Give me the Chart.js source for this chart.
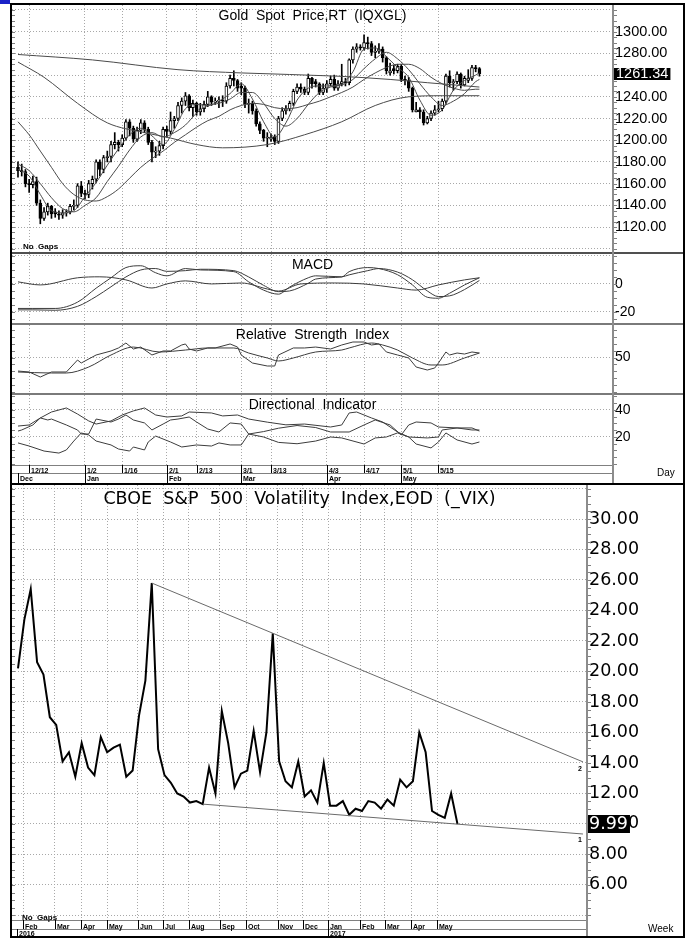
<!DOCTYPE html>
<html>
<head>
<meta charset="utf-8">
<title>Gold Spot / VIX</title>
<script src="https://cdn.jsdelivr.net/npm/chart.js@4.4.1/dist/chart.umd.min.js"></script>
<style>
  body { margin: 0; width: 690px; height: 940px; background: #fff; position: relative; overflow: hidden;
         font-family: "Liberation Sans", Arial, sans-serif; }
  canvas { position: absolute; }
  .frame { position: absolute; border: 2px solid #000; box-sizing: border-box; }
  .sep { position: absolute; background: #7a7a7a; }
  .t { position: absolute; white-space: pre; color: #000; line-height: 1; }
  .ttl { font-size: 14px; text-align: center; left: 12px; width: 601px; }
  .small { font-size: 8px; font-weight: bold; }
</style>
</head>
<body>
<div style="position:absolute;left:0;top:0;width:10px;height:4px;background:#1a22c8"></div>

<div class="frame" style="left:10px;top:3px;width:675px;height:482px"></div>
<div class="frame" style="left:10px;top:483px;width:675px;height:455px"></div>

<canvas id="price" width="671" height="247" style="left:12px;top:5px"></canvas>
<canvas id="macd" width="671" height="69" style="left:12px;top:254px"></canvas>
<canvas id="rsi" width="671" height="68" style="left:12px;top:325px"></canvas>
<canvas id="di" width="671" height="88" style="left:12px;top:395px"></canvas>
<canvas id="vix" width="671" height="451" style="left:12px;top:485px"></canvas>

<!-- panel separators and axis lines -->
<div class="sep" style="left:12px;top:252px;width:671px;height:2px;background:#505050"></div>
<div class="sep" style="left:12px;top:323px;width:671px;height:2px"></div>
<div class="sep" style="left:12px;top:393px;width:671px;height:2px"></div>
<div class="sep" style="left:612px;top:5px;width:2px;height:478px;background:#8c8c8c"></div>
<div class="sep" style="left:586px;top:485px;width:2px;height:451px;background:#8c8c8c"></div>

<div class="t ttl" style="top:7.5px">Gold  Spot  Price,RT  (IQXGL)</div>
<div class="t ttl" style="top:256.5px">MACD</div>
<div class="t ttl" style="top:326.5px">Relative  Strength  Index</div>
<div class="t ttl" style="top:397px">Directional  Indicator</div>
<div class="t" style="left:12px;width:575px;top:490px;text-align:center;font-family:'DejaVu Sans',Verdana,sans-serif;font-size:17.5px">CBOE  S&amp;P  500  Volatility  Index,EOD  (_VIX)</div>
<div class="t small" style="left:23px;top:243px">No  Gaps</div>
<div class="t small" style="left:22px;top:914px">No  Gaps</div>
<div class="t" style="left:657px;top:468px;font-size:10px">Day</div>
<div class="t" style="left:648px;top:924px;font-size:10px">Week</div>

<script>
// ---- Gold spot, daily (x = trading day index, 0 = Dec 7 2016) ----
const OPEN = [
  1175,1172,1171,1160,1159,1162,1142,1128,1134,1139,
  1134,1132,1131,1133,1134,1139,1140,1158,1151,1150,
  1160,1164,1180,1173,1184,1185,1196,1198,1196,1202,
  1217,1211,1201,1209,1216,1210,1198,1189,1190,1195,
  1210,1208,1218,1220,1232,1236,1241,1230,1234,1226,
  1229,1233,1240,1235,1236,1237,1236,1250,1257,1255,
  1250,1248,1233,1234,1227,1215,1209,1202,1201,1203,
  1199,1220,1227,1229,1234,1245,1249,1247,1244,1257,
  1254,1252,1244,1248,1252,1256,1248,1252,1254,1253,
  1274,1284,1286,1285,1290,1289,1281,1282,1284,1276,
  1262,1266,1264,1268,1256,1255,1248,1226,1228,1226,
  1216,1220,1225,1228,1229,1236,1259,1253,1254,1261,
  1251,1255,1257,1267,1266];
const HIGH = [
  1180,1178,1173,1164,1167,1166,1145,1138,1142,1140,
  1137,1135,1136,1136,1141,1145,1160,1162,1154,1163,
  1167,1182,1182,1186,1190,1199,1207,1200,1205,1219,
  1219,1213,1212,1219,1218,1212,1200,1194,1199,1212,
  1213,1226,1222,1235,1239,1244,1242,1237,1235,1234,
  1236,1245,1241,1239,1240,1241,1253,1260,1264,1256,
  1253,1250,1238,1236,1229,1217,1210,1207,1206,1205,
  1222,1230,1232,1236,1247,1252,1252,1249,1261,1258,
  1256,1253,1252,1255,1259,1260,1255,1270,1257,1275,
  1286,1289,1288,1297,1295,1291,1287,1289,1286,1277,
  1271,1269,1270,1270,1259,1258,1249,1235,1230,1228,
  1222,1227,1232,1236,1238,1261,1264,1256,1263,1262,
  1259,1265,1269,1269,1267];
const LOW = [
  1166,1167,1157,1152,1156,1140,1123,1126,1131,1128,
  1129,1127,1128,1130,1132,1136,1138,1148,1146,1147,
  1155,1161,1167,1170,1180,1180,1192,1190,1194,1200,
  1204,1198,1199,1206,1207,1196,1180,1184,1186,1192,
  1203,1206,1211,1218,1225,1232,1227,1222,1223,1223,
  1226,1231,1232,1233,1230,1231,1234,1248,1250,1245,
  1242,1230,1225,1224,1213,1206,1199,1194,1199,1196,
  1197,1218,1224,1227,1232,1243,1244,1242,1242,1248,
  1249,1242,1242,1244,1250,1246,1246,1250,1250,1251,
  1271,1281,1283,1283,1284,1278,1276,1280,1272,1261,
  1260,1261,1262,1254,1251,1245,1226,1226,1220,1214,
  1215,1218,1223,1226,1227,1234,1249,1246,1252,1248,
  1250,1253,1255,1263,1259];
const CLOSE = [
  1172,1171,1160,1159,1162,1142,1128,1134,1139,1132,
  1132,1131,1133,1134,1139,1140,1158,1151,1150,1160,
  1164,1180,1173,1184,1185,1196,1198,1196,1202,1217,
  1211,1201,1209,1216,1210,1198,1189,1190,1195,1210,
  1208,1218,1220,1232,1236,1241,1230,1234,1226,1229,
  1233,1240,1235,1236,1237,1236,1250,1257,1255,1248,
  1248,1233,1234,1227,1215,1209,1202,1203,1203,1199,
  1220,1227,1229,1234,1245,1249,1247,1244,1257,1252,
  1252,1244,1248,1252,1256,1248,1252,1254,1253,1274,
  1284,1286,1285,1290,1289,1281,1282,1284,1276,1264,
  1264,1264,1268,1256,1255,1248,1228,1228,1226,1216,
  1220,1225,1228,1229,1236,1259,1253,1254,1261,1251,
  1257,1257,1267,1266,1261.34];

// moving averages
const SHORT_IDX = [0,3,6,9,12,15,18,21,24,27,30,33,36,39,42,45,48,51,54,57,60,63,66,69,72,75,78,81,84,87,90,93,96,99,102,105,108,111,114,117,120,123,124];
const MA_FAST = [1173,1167,1150,1135,1133,1135,1148,1161,1177,1192,1205,1211,1204,1196,1210,1229,1233,1232,1236,1243,1252,1238,1217,1203,1216,1237,1248,1250,1250,1252,1263,1284,1285,1277,1267,1258,1237,1223,1228,1246,1255,1260,1262];
const MA_MID = [1178,1172,1160,1147,1137,1134,1140,1147,1162,1176,1191,1203,1207,1203,1207,1214,1225,1232,1234,1238,1244,1244,1234,1220,1213,1220,1233,1244,1249,1251,1256,1266,1275,1281,1275,1265,1252,1240,1232,1236,1243,1254,1256];
const MA_SLOW = [1217,1205,1190,1175,1160,1150,1145,1144,1148,1155,1165,1175,1183,1190,1198,1205,1212,1218,1222,1228,1232,1234,1233,1230,1229,1230,1233,1236,1240,1244,1249,1256,1262,1267,1270,1270,1266,1258,1252,1248,1246,1247,1247];
const MA_LONG_IDX = [0,20,43,60,86,100,110,124];
const MA_LONG = [1279,1274,1265,1262,1259,1256,1253,1249];
const MA_U_IDX = [0,7,16,24,34,41,48,55,67,77,87,96,105,114,124];
const MA_U = [1272,1258,1234,1216,1207,1202,1196,1193,1196,1205,1217,1232,1240,1241,1241];

// MACD
const MACD_IDX = [0,4,10,16,21,25,29,33,37,40,45,49,58,62,66,70,73,78,80,87,89,94,97,102,106,110,113,116,120,124];
const MACD_LINE = [-17.5,-17.5,-17.5,-13,-3,4.4,11.7,13,8,5.8,11,10,8.8,1.5,-4.4,-7.3,-2.2,4.4,5.8,5.1,8.8,11.7,11,6.6,-0.7,-9.5,-10.2,-6.6,-0.7,4.4];
const MACD_SIGNAL = [-18.5,-18.5,-18.8,-16,-9,-2,5,10,11,9,9.5,10.5,9.5,5,-1,-5.5,-5,0.5,3.5,5,6.5,9.5,11,8.5,3,-5,-9,-8.5,-4,2.5];
const MACD3_IDX = [0,6,16,22,29,36,40,45,52,60,67,70,76,85,93,102,107,113,120,124];
const MACD_THIRD = [1.5,-0.7,4.4,5.1,2.9,-2.9,0,2.2,0,0.7,-3.6,-5.1,0,0.7,0,-2.9,-4.4,-0.7,2.9,4.4];

// RSI
const RSI_IDX = [0,3,6,9,13,16,17,21,25,27,29,31,33,36,39,41,44,45,46,48,51,53,57,59,60,63,67,69,70,74,77,80,84,87,90,93,95,97,99,102,105,107,110,112,113,115,116,118,120,122,124];
const RSI = [30.1,28.7,21.3,28.7,28.7,46.3,41.9,53.7,59.6,64,71.3,62.5,65.4,53.7,59.6,59.6,68.4,69.9,62.5,59.6,64,64,69.9,65.4,53.7,41.9,37.5,37.5,53.7,64,64,65.4,62.5,68.4,72.8,72.8,68.4,69.9,58.1,53.7,49.3,36,31.6,34.6,41.9,58.1,53.7,56.6,55.1,58.1,56.6];
const RSI_AVG_IDX = [0,9,13,19,25,31,38,45,51,58,62,67,70,74,80,87,89,95,98,102,106,111,114,120,124];
const RSI_AVG = [28.7,27.2,27.2,36,53.7,65.4,58.1,61,64,64,56.6,49.3,44.9,49.3,58.1,61,64,71.3,68.4,61,49.3,39,39,49.3,56.6];

// Directional indicator
const DI1_IDX = [0,3,6,9,13,16,19,21,25,28,31,34,37,40,44,46,52,55,59,62,67,72,77,84,87,89,91,93,95,98,102,105,110,113,114,118,122,124];
const DI1 = [28.1,28.9,34.1,38.5,41.5,37,31.9,29.6,31.9,36.3,39.3,41.5,36.3,34.8,35.6,38.5,37.8,35.6,36.3,33.3,31,29,29.6,27.4,28.9,37.8,38.5,36.3,34.1,31.1,23.7,20,19.3,20,25.2,26.7,25.2,25.2];
const DI2_IDX = [0,1,4,6,8,9,13,16,17,19,21,25,27,29,31,34,36,39,41,43,46,48,51,54,57,60,62,66,70,75,80,84,89,93,96,100,103,105,107,111,113,118,122,124];
const DI2 = [24.4,25.2,28.9,34.1,32.6,33.3,28.9,25.2,22.2,22.2,33.3,31.1,33.3,36.3,32.6,30.4,25.2,29.6,32.6,33.3,34.8,31.1,25.9,23.7,30.4,29.6,22.2,24,26.5,28.5,27,23.7,23.7,28.9,32.6,28.9,21.5,28.9,31.1,30.4,27.4,26.7,26.7,24.4];
const DI3_IDX = [0,3,7,11,13,15,17,19,21,25,27,30,31,34,35,37,41,44,48,52,54,57,60,62,66,70,75,80,84,87,93,96,99,102,105,107,111,113,115,118,122,124];
const DI3 = [15.6,13.3,9.6,8.1,10.4,17,23,21.5,17,14.1,11.1,9.6,12.6,10.4,16.3,20.7,16.3,12.6,14.1,13.3,15.6,14.1,14.1,22.2,20,16,15,17,20,19.3,14.8,19.3,20,23,20,14.8,11.9,16.3,23,17.8,14.8,16.3];

// date axis of the gold chart
const DAY_TICK_IDX = [3,18,28,40,48,60,68,83,93,103,113];
const DAY_TICK_LABELS = ['12/12','1/2','1/16','2/1','2/13','3/1','3/13','4/3','4/17','5/1','5/15'];
const GOLD_MONTH_IDX = [0,18,40,60,83,103];
const GOLD_MONTH_LABELS = ['Dec','Jan','Feb','Mar','Apr','May'];

const PRICE_TICKS = [1100,1120,1140,1160,1180,1200,1220,1240,1260,1280,1300,1320];
const PRICE_LABELS = [1120,1140,1160,1180,1200,1220,1240,1260,1280,1300];

// ---- VIX, weekly (x = week index, 0 = last week of Jan 2016) ----
const VIX = [
  20.2,23.4,25.4,20.6,19.8,17.0,16.5,14.1,14.7,13.1,
  15.3,13.7,13.2,15.7,14.7,15.0,15.2,13.1,13.5,17.1,
  19.4,25.8,14.9,13.2,12.7,12.0,11.8,11.4,11.5,11.3,
  13.7,12.0,17.4,15.3,12.4,13.3,13.5,16.1,13.4,16.0,
  22.5,14.1,12.8,12.4,14.1,11.8,12.2,11.4,14.0,11.2,
  11.2,11.5,10.6,11.0,10.85,11.5,11.4,11.0,11.6,11.2,
  12.9,12.4,12.8,16.0,14.7,10.85,10.6,10.4,12.0,9.99];
const TREND_UPPER = [[21, 25.8], [88.7, 14.07]];
const TREND_LOWER = [[29, 11.3], [88.7, 9.34]];
const VIX_MONTH_POS = [0.8,5.8,9.9,14,18.8,22.8,26.8,31.7,35.8,40.8,44.7,48.7,53.7,57.6,61.7,65.8];
const VIX_MONTH_LABELS = ['Feb','Mar','Apr','May','Jun','Jul','Aug','Sep','Oct','Nov','Dec','Jan','Feb','Mar','Apr','May'];
const VIX_YEAR_POS = [-0.1, 48.7];
const VIX_YEAR_LABELS = ['2016','2017'];
const VIX_TICKS = [4,6,8,10,12,14,16,18,20,22,24,26,28,30,32];
const VIX_LABELS = [6,8,10,12,14,16,18,20,22,24,26,28,30];

const GRID = '#a8a8a8';
const LINE = '#3c3c3c';
const ARIAL = '"Liberation Sans", Arial, sans-serif';
const VERDANA = '"DejaVu Sans", Verdana, sans-serif';

function xy(idx, vals) {
  return vals.map((v, k) => ({ x: idx[k], y: v }));
}

function lineSet(data, color, width, tension) {
  return { type: 'line', data: data, borderColor: color, borderWidth: width, pointRadius: 0,
           tension: tension || 0, cubicInterpolationMode: tension ? 'monotone' : 'default', fill: false, order: 1 };
}

// small marks on the left edge and on the right axis line
const edgeTicks = {
  id: 'edgeTicks',
  afterDraw(chart, args, opts) {
    if (!opts.step) return;
    const { ctx, chartArea: a, scales: { y } } = chart;
    ctx.save();
    ctx.fillStyle = '#808080';
    for (let v = Math.ceil(y.min / opts.step) * opts.step; v <= y.max; v += opts.step) {
      const py = Math.round(y.getPixelForValue(v));
      ctx.fillRect(a.left, py, 3, 1);
      ctx.fillRect(a.right + 1, py, 3, 1);
    }
    ctx.restore();
  }
};

// black box with the last value on the price axis
const lastBox = {
  id: 'lastBox',
  afterDraw(chart, args, opts) {
    if (!opts.text) return;
    const { ctx, chartArea: a, scales: { y } } = chart;
    const py = y.getPixelForValue(opts.value);
    ctx.save();
    ctx.font = opts.font;
    const w = ctx.measureText(opts.text).width;
    ctx.fillStyle = '#000';
    ctx.fillRect(a.right + 1, Math.round(py - opts.h / 2), w + opts.pad + 2, opts.h);
    ctx.fillStyle = '#fff';
    ctx.textBaseline = 'middle';
    ctx.fillText(opts.text, a.right + 1 + opts.pad, py + 0.5);
    ctx.restore();
  }
};

// two-row date axis below the last panel
const dateAxis = {
  id: 'dateAxis',
  afterDraw(chart, args, opts) {
    if (!opts.top) return;
    const { ctx, chartArea: a, scales: { x } } = chart;
    const top = a.bottom, mid = top + opts.row, bot = chart.height;
    ctx.save();
    ctx.fillStyle = '#808080';
    ctx.fillRect(0, top, a.right, 1);
    ctx.fillRect(0, mid, a.right, 1);
    ctx.fillStyle = '#000';
    ctx.font = 'bold 7px ' + ARIAL;
    opts.top.pos.forEach((v, k) => {
      const px = Math.round(x.getPixelForValue(v));
      ctx.fillRect(px, top, 1, opts.row);
      ctx.fillText(opts.top.labels[k], px + 2, top + opts.base1);
    });
    opts.bottom.pos.forEach((v, k) => {
      const px = Math.max(1, Math.round(x.getPixelForValue(v)));
      ctx.fillRect(px, mid, 1, bot - mid);
      ctx.fillText(opts.bottom.labels[k], px + 2, top + opts.base2);
    });
    ctx.restore();
  }
};

// small number tags at the right end of the trend lines
const trendTags = {
  id: 'trendTags',
  afterDraw(chart, args, opts) {
    if (!opts.lines) return;
    const { ctx, scales: { x, y } } = chart;
    ctx.save();
    ctx.fillStyle = '#000';
    ctx.font = 'bold 7px ' + ARIAL;
    opts.lines.forEach((ln, k) => {
      const end = ln[ln.length - 1];
      ctx.fillText(opts.tags[k], x.getPixelForValue(end[0]) - 5, y.getPixelForValue(end[1]) + opts.dy[k]);
    });
    ctx.restore();
  }
};

Chart.register(edgeTicks, lastBox, dateAxis, trendTags);

function scales(cfg) {
  return {
    x: {
      type: 'linear', min: cfg.xMin, max: cfg.xMax, offset: false,
      grid: { color: GRID, offset: false, drawTicks: false, lineWidth: 1 },
      border: { display: false, dash: [1, 2] },
      ticks: { display: false },
      afterBuildTicks: s => { s.ticks = cfg.xGrid.map(v => ({ value: v })); },
      afterFit: s => { s.height = cfg.xHeight; s.paddingLeft = 0; s.paddingRight = 0; }
    },
    y: {
      position: 'right', min: cfg.yMin, max: cfg.yMax, beginAtZero: false,
      grid: { color: GRID, drawTicks: false, lineWidth: 1 },
      border: { display: false, dash: [1, 2] },
      ticks: {
        autoSkip: false, padding: 2, color: '#000', font: cfg.font,
        callback: v => cfg.labels.includes(v) ? cfg.fmt(v) : ''
      },
      afterBuildTicks: s => { s.ticks = cfg.yGrid.map(v => ({ value: v })); },
      afterFit: s => { s.width = cfg.yWidth; s.paddingTop = 0; s.paddingBottom = 0; }
    }
  };
}

function makeChart(id, datasets, cfg, plugins) {
  return new Chart(document.getElementById(id).getContext('2d'), {
    type: 'line',
    data: { datasets: datasets },
    options: {
      responsive: false, animation: false, devicePixelRatio: 1,
      layout: { padding: 0 },
      plugins: Object.assign({ legend: { display: false }, tooltip: { enabled: false } }, plugins),
      scales: scales(cfg)
    }
  });
}

const goldBase = { xMin: -1.61, xMax: 159.9, xGrid: DAY_TICK_IDX, xHeight: 0, yWidth: 70 };
const font14 = { family: ARIAL, size: 14 };

// price panel: candles + moving averages
const candleColors = CLOSE.map((c, i) => c >= OPEN[i] ? '#fff' : '#000');
makeChart('price', [
  lineSet(xy(MA_LONG_IDX, MA_LONG), '#4a4a4a', 1, 0.4),
  lineSet(xy(MA_U_IDX, MA_U), '#4a4a4a', 1, 0.4),
  lineSet(xy(SHORT_IDX, MA_SLOW), '#4a4a4a', 1, 0.4),
  lineSet(xy(SHORT_IDX, MA_MID), '#4a4a4a', 1, 0.4),
  lineSet(xy(SHORT_IDX, MA_FAST), '#4a4a4a', 1, 0.4),
  { type: 'bar', data: HIGH.map((h, i) => ({ x: i, y: [LOW[i], h] })), backgroundColor: '#000',
    borderWidth: 0, barThickness: 1, grouped: false, order: 3 },
  { type: 'bar', data: OPEN.map((o, i) => ({ x: i, y: [o, CLOSE[i]] })), backgroundColor: candleColors,
    borderColor: '#000', borderWidth: 1, borderSkipped: false, barThickness: 3, minBarLength: 1,
    grouped: false, order: 2 }
], Object.assign({}, goldBase, {
  yMin: 1097, yMax: 1324.6, yGrid: PRICE_TICKS, labels: PRICE_LABELS,
  fmt: v => v.toFixed(2), font: { family: ARIAL, size: 14.5 }
}), {
  edgeTicks: { step: 5 },
  lastBox: { text: CLOSE[CLOSE.length - 1].toFixed(2), value: CLOSE[CLOSE.length - 1],
             font: '14.5px ' + ARIAL, h: 12, pad: 2 }
});

makeChart('macd', [
  lineSet(xy(MACD_IDX, MACD_LINE), LINE, 1, 0.3),
  lineSet(xy(MACD_IDX, MACD_SIGNAL), LINE, 1, 0.3),
  lineSet(xy(MACD3_IDX, MACD_THIRD), LINE, 1, 0.3)
], Object.assign({}, goldBase, {
  yMin: -27.9, yMax: 21.4, yGrid: [-20, 0, 20], labels: [-20, 0], fmt: v => String(v), font: font14
}), { edgeTicks: { step: 5 } });

makeChart('rsi', [
  lineSet(xy(RSI_IDX, RSI), LINE, 1),
  lineSet(xy(RSI_AVG_IDX, RSI_AVG), LINE, 1, 0.4)
], Object.assign({}, goldBase, {
  yMin: -2.2, yMax: 97.8, yGrid: [50], labels: [50], fmt: v => String(v), font: font14
}), { edgeTicks: { step: 10 } });

makeChart('di', [
  lineSet(xy(DI1_IDX, DI1), LINE, 1),
  lineSet(xy(DI2_IDX, DI2), LINE, 1),
  lineSet(xy(DI3_IDX, DI3), LINE, 1)
], Object.assign({}, goldBase, {
  xHeight: 18, yMin: -0.74, yMax: 51.1, yGrid: [20, 40], labels: [20, 40], fmt: v => String(v), font: font14
}), {
  edgeTicks: { step: 5 },
  dateAxis: { row: 8, base1: 7.5, base2: 16,
              top: { pos: DAY_TICK_IDX, labels: DAY_TICK_LABELS },
              bottom: { pos: GOLD_MONTH_IDX, labels: GOLD_MONTH_LABELS } }
});

// VIX weekly chart with the two trend lines
makeChart('vix', [
  lineSet(TREND_UPPER.map(p => ({ x: p[0], y: p[1] })), '#6a6a6a', 1),
  lineSet(TREND_LOWER.map(p => ({ x: p[0], y: p[1] })), '#6a6a6a', 1),
  lineSet(VIX.map((v, i) => ({ x: i, y: v })), '#000', 2)
], {
  xMin: -0.94, xMax: 89.33, xGrid: VIX_MONTH_POS, xHeight: 16, yWidth: 96,
  yMin: 3.7, yMax: 32.23, yGrid: VIX_TICKS, labels: VIX_LABELS,
  fmt: v => v.toFixed(2), font: { family: VERDANA, size: 17.5 }
}, {
  edgeTicks: { step: 0.5 },
  lastBox: { text: VIX[VIX.length - 1].toFixed(2), value: VIX[VIX.length - 1],
             font: '17.5px ' + VERDANA, h: 18, pad: 1 },
  dateAxis: { row: 9, base1: 9, base2: 16,
              top: { pos: VIX_MONTH_POS, labels: VIX_MONTH_LABELS },
              bottom: { pos: VIX_YEAR_POS, labels: VIX_YEAR_LABELS } },
  trendTags: { lines: [TREND_UPPER, TREND_LOWER], tags: ['2', '1'], dy: [9, 8] }
});
</script>
</body>
</html>
